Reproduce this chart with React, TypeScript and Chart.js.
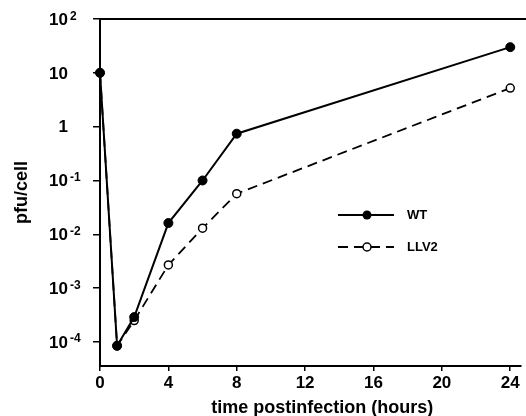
import React, { useEffect, useRef } from "react";
import { Chart, registerables } from "chart.js";

Chart.register(...registerables);

// ---- data ----
const hours = [0, 1, 2, 4, 6, 8, 24];
const wtValues = [10, 8.5e-5, 2.9e-4, 1.62e-2, 0.1, 0.74, 30];
const llv2Values = [10, 8.5e-5, 2.5e-4, 2.7e-3, 1.3e-2, 0.057, 5.2];
const seriesLabels = ["WT", "LLV2"];

const xTickValues = [0, 4, 8, 12, 16, 20, 24];
const yTickValues = [1e2, 1e1, 1, 1e-1, 1e-2, 1e-3, 1e-4];
const yTickBase = ["10", "10", "1", "10", "10", "10", "10"];
const yTickExp = ["2", "", "", "-1", "-2", "-3", "-4"];

const xTitle = "time postinfection (hours)";
const yTitle = "pfu/cell";

const FONT = "'Liberation Sans', Arial, Helvetica, sans-serif";
const Y_MIN = 3.58e-5;
const Y_MAX = 100;
const X_MIN = 0;
const X_MAX = 24.6;

const overlayPlugin = {
  id: "overlay",
  afterDraw(chart: any) {
    const { ctx, chartArea: a, scales } = chart;
    const xs = scales.x;
    const ys = scales.y;
    ctx.save();

    // top frame line
    ctx.strokeStyle = "#000";
    ctx.lineWidth = 2;
    ctx.beginPath();
    ctx.moveTo(a.left - 1, a.top);
    ctx.lineTo(chart.width, a.top);
    ctx.stroke();

    // y tick labels with superscript exponents
    ctx.fillStyle = "#000";
    const bx = a.left - 32;
    yTickValues.forEach((v, i) => {
      const py = ys.getPixelForValue(v) + 1;
      ctx.font = `bold 17px ${FONT}`;
      ctx.textAlign = "right";
      ctx.textBaseline = "middle";
      ctx.fillText(yTickBase[i], bx, py);
      if (yTickExp[i]) {
        ctx.font = `bold 12px ${FONT}`;
        ctx.textAlign = "left";
        ctx.textBaseline = "alphabetic";
        ctx.fillText(yTickExp[i], bx + 2, py - 0.5);
      }
    });

    // x axis title
    ctx.font = `bold 18px ${FONT}`;
    ctx.textAlign = "center";
    ctx.textBaseline = "alphabetic";
    ctx.fillText(xTitle, xs.getPixelForValue(13), a.bottom + 47);

    // legend
    const lx1 = a.left + 238;
    const lx2 = a.left + 294;
    const mx = a.left + 267;
    const tx = a.left + 307;
    const ly = [a.top + 196, a.top + 228];

    // WT
    ctx.setLineDash([]);
    ctx.lineWidth = 2;
    ctx.beginPath();
    ctx.moveTo(lx1, ly[0]);
    ctx.lineTo(lx2, ly[0]);
    ctx.stroke();
    ctx.beginPath();
    ctx.arc(mx, ly[0], 4.5, 0, Math.PI * 2);
    ctx.fillStyle = "#000";
    ctx.fill();

    // LLV2
    ctx.lineWidth = 1.8;
    ctx.setLineDash([10, 6]);
    ctx.beginPath();
    ctx.moveTo(lx1, ly[1]);
    ctx.lineTo(lx2, ly[1]);
    ctx.stroke();
    ctx.setLineDash([]);
    ctx.beginPath();
    ctx.arc(mx, ly[1], 4, 0, Math.PI * 2);
    ctx.fillStyle = "#fff";
    ctx.fill();
    ctx.lineWidth = 1.5;
    ctx.stroke();

    ctx.fillStyle = "#000";
    ctx.font = `bold 13px ${FONT}`;
    ctx.textAlign = "left";
    ctx.textBaseline = "middle";
    ctx.fillText(seriesLabels[0], tx, ly[0]);
    ctx.fillText(seriesLabels[1], tx, ly[1]);

    ctx.restore();
  },
};

export default function App() {
  const canvasRef = useRef<HTMLCanvasElement | null>(null);

  useEffect(() => {
    document.body.style.margin = "0";
    const canvas = canvasRef.current;
    if (!canvas) return;

    const chart = new Chart(canvas, {
      type: "line",
      data: {
        datasets: [
          {
            label: seriesLabels[0],
            data: hours.map((h, i) => ({ x: h, y: wtValues[i] })),
            borderColor: "#000",
            borderWidth: 2,
            backgroundColor: "#000",
            pointRadius: 4.5,
            pointBackgroundColor: "#000",
            pointBorderColor: "#000",
            pointBorderWidth: 1,
            tension: 0,
            clip: false,
          },
          {
            label: seriesLabels[1],
            data: hours.map((h, i) => ({ x: h, y: llv2Values[i] })),
            borderColor: "#000",
            borderWidth: 1.8,
            borderDash: [10, 6],
            backgroundColor: "#fff",
            pointRadius: 4,
            pointBackgroundColor: "#fff",
            pointBorderColor: "#000",
            pointBorderWidth: 1.5,
            tension: 0,
            clip: false,
          },
        ],
      },
      options: {
        animation: false,
        responsive: false,
        maintainAspectRatio: false,
        layout: { padding: { top: 19, left: 0, right: 0, bottom: 0 } },
        plugins: {
          legend: { display: false },
          tooltip: { enabled: false },
          title: { display: false },
        },
        scales: {
          x: {
            type: "linear",
            min: X_MIN,
            max: X_MAX,
            afterBuildTicks: (s: any) => {
              s.ticks = xTickValues.map((v) => ({ value: v }));
            },
            afterFit: (s: any) => {
              s.height = 50;
            },
            grid: {
              drawOnChartArea: false,
              drawTicks: true,
              tickLength: 5,
              color: "#000",
              lineWidth: 1.5,
            },
            border: { display: true, color: "#000", width: 2 },
            ticks: {
              color: "#000",
              font: { family: FONT, size: 17, weight: "bold" },
              padding: 2,
              maxRotation: 0,
              autoSkip: false,
              callback: (v: any) => String(v),
            },
          },
          y: {
            type: "logarithmic",
            min: Y_MIN,
            max: Y_MAX,
            afterBuildTicks: (s: any) => {
              s.ticks = yTickValues.map((v) => ({ value: v }));
            },
            afterFit: (s: any) => {
              s.width = 100;
            },
            grid: {
              drawOnChartArea: false,
              drawTicks: true,
              tickLength: 7,
              color: "#000",
              lineWidth: 1.5,
            },
            border: { display: true, color: "#000", width: 2 },
            ticks: {
              callback: () => "",
            },
            title: {
              display: true,
              text: yTitle,
              color: "#000",
              font: { family: FONT, size: 18, weight: "bold" },
              padding: { top: 11, bottom: 0 },
            },
          },
        },
      } as any,
      plugins: [overlayPlugin],
    });

    return () => chart.destroy();
  }, []);

  return (
    <div style={{ width: 526, height: 416 }}>
      <canvas ref={canvasRef} width={526} height={416} style={{ display: "block" }} />
    </div>
  );
}
